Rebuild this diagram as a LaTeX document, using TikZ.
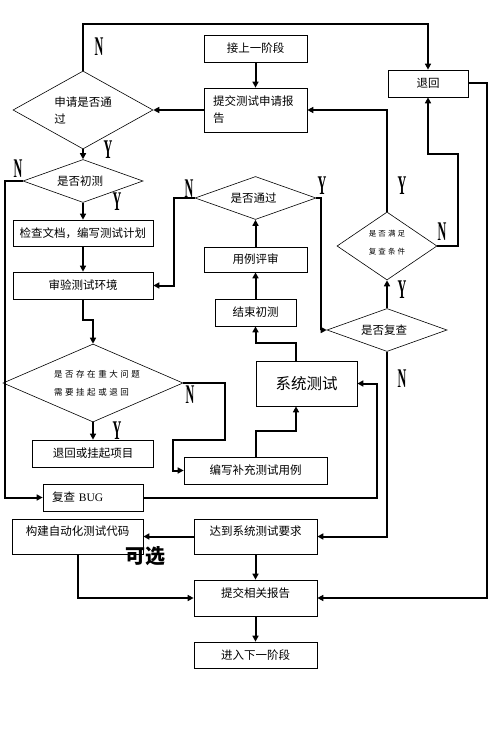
\documentclass[tikz,border=0pt]{standalone}
\usepackage{fontspec}
\usepackage{tikz}
\usetikzlibrary{shapes.geometric, arrows.meta, positioning, calc}
\newfontfamily\cjk{Noto Sans CJK SC}
\newfontfamily\cjksmall[LetterSpace=30]{Noto Sans CJK SC}
\newfontfamily\cjktiny[LetterSpace=28]{Noto Sans CJK SC}
\newfontfamily\latin{Liberation Serif}
\newcommand{\yn}[1]{{\latin\bfseries\fontsize{27}{27}\selectfont\scalebox{0.45}[1]{#1}}}

\begin{document}
\begin{tikzpicture}[x=1pt,y=-1pt,>={Triangle[length=6pt,width=6pt]},
                    main node/.style={rectangle,draw,line width=0.7pt,inner sep=0pt,font=\cjk\fontsize{11.5}{17}\selectfont},
                    dec node/.style={diamond,draw,line width=0.6pt,inner sep=0pt},
                    dec text/.style={font=\cjk\fontsize{11.5}{17}\selectfont,align=left,inner sep=0pt},
                    high text/.style={text height=8pt,text depth=10pt},
                    flow/.style={->,line width=2pt},
                    yn/.style={inner sep=0pt}]

  \useasboundingbox (0,0) rectangle (489,730);

  % boxes
  \node[main node,minimum width=103pt,minimum height=27pt] (1) at (255.5,48.5) {接上一阶段};
  \node[main node,minimum width=103pt,minimum height=44pt,text width=85pt,align=left] (2) at (255.5,110) {提交测试申请报\\告};
  \node[main node,minimum width=140pt,minimum height=26pt] (3) at (83,233) {检查文档，编写测试计划};
  \node[main node,minimum width=140pt,minimum height=27pt] (4) at (83,285.5) {审验测试环境};
  \node[main node,minimum width=121pt,minimum height=27pt] (5) at (93,453.5) {退回或挂起项目};
  \node[main node,minimum width=100pt,minimum height=27pt,text width=82pt,align=left] (6) at (93,497.5) {复查 {\latin BUG}};
  \node[main node,high text,minimum width=131pt,minimum height=35pt] (7) at (77.5,536.5) {构建自动化测试代码};
  \node[main node,high text,minimum width=123pt,minimum height=35pt] (8) at (255.5,536.5) {达到系统测试要求};
  \node[main node,high text,minimum width=123pt,minimum height=36pt] (9) at (255.5,598) {提交相关报告};
  \node[main node,minimum width=123pt,minimum height=26pt] (10) at (255.5,655) {进入下一阶段};
  \node[main node,minimum width=80pt,minimum height=27pt] (11) at (428,83.5) {退回};
  \node[main node,minimum width=103pt,minimum height=25pt] (12) at (255.5,259.5) {用例评审};
  \node[main node,minimum width=81pt,minimum height=27pt] (13) at (255.5,312.5) {结束初测};
  \node[main node,minimum width=101pt,minimum height=45pt,font=\cjk\fontsize{15.5}{17}\selectfont] (14) at (306.5,383.5) {系统测试};
  \node[main node,minimum width=143pt,minimum height=27pt] (15) at (255.5,470.5) {编写补充测试用例};

  % decisions
  \node[dec node,minimum width=140pt,minimum height=78pt,label={[dec text]center:申请是否通\\过}] (d1) at (83,110) {};
  \node[dec node,minimum width=120pt,minimum height=43pt,label={[dec text,xshift=-3pt]center:是否初测}] (d2) at (83,181) {};
  \node[dec node,minimum width=121pt,minimum height=43pt,label={[dec text,xshift=-2pt]center:是否通过}] (d3) at (255.5,198) {};
  \node[dec node,minimum width=180pt,minimum height=78pt,label={[dec text,xshift=4pt,font=\cjksmall\fontsize{8.5}{18}\selectfont]center:是否存在重大问题\\需要挂起或退回}] (d4) at (93,383) {};
  \node[dec node,minimum width=100pt,minimum height=68pt,label={[dec text,yshift=3pt,font=\cjktiny\fontsize{7.5}{18}\selectfont]center:是否满足\\复查条件}] (d5) at (387,246) {};
  \node[dec node,minimum width=120pt,minimum height=43pt,label={[dec text,xshift=-3pt]center:是否复查}] (d6) at (387,330) {};

  \node[font=\cjk\bfseries\fontsize{20}{20}\selectfont,inner sep=0pt] (opt) at (145,556) {可选};

  % Y / N
  \node[yn] (n1) at (99,47) {\yn{N}};
  \node[yn] (y1) at (108,150) {\yn{Y}};
  \node[yn] (n2) at (18,169) {\yn{N}};
  \node[yn] (y2) at (117,202) {\yn{Y}};
  \node[yn] (n3) at (189,189) {\yn{N}};
  \node[yn] (y3) at (322,186) {\yn{Y}};
  \node[yn] (y4) at (402,186) {\yn{Y}};
  \node[yn] (n4) at (442,232) {\yn{N}};
  \node[yn] (y5) at (402,290) {\yn{Y}};
  \node[yn] (n5) at (402,379) {\yn{N}};
  \node[yn] (n6) at (190,395) {\yn{N}};
  \node[yn] (y6) at (117,431) {\yn{Y}};

  \path[flow]
  (1) edge (2)
  (2) edge (d1)
  (d1) edge (d2)
  (d2) edge (3)
  (3) edge (4)
  (d4) edge (5)
  (8) edge (7)
  (8) edge (9)
  (9) edge (10)
  (d6) edge (d5)
  (13) edge (12)
  (12) edge (d3);

  \draw[flow] (d1.north) -- ++(0,-47) -| (11.north);
  \draw[flow] (d2.west) -- ++(-18,0) |- (6.west);
  \draw[flow] (4.south) -- ++(0,21) -| (d4.north);
  \draw[flow] (d4.east) -- ++(42,0) -- ++(0,57) -- ++(-52,0) |- (15.west);
  \draw[flow] (15.north) -- ++(0,-26) -| ([xshift=-10.5pt]14.south);
  \draw[flow] ([xshift=-10.5pt]14.north) -- ++(0,-18) -| (13.south);
  \draw[flow] (d3.west) -- ++(-21,0) |- (4.east);
  \draw[flow] (d3.east) -- ++(5,0) |- (d6.west);
  \draw[flow] (d5.north) |- (2.east);
  \draw[flow] (d5.east) -- ++(21,0) -- ++(0,-92) -| (11.south);
  \draw[flow] (11.east) -- ++(19,0) |- (9.east);
  \draw[flow] (d6.south) |- (8.east);
  \draw[flow] (6.east) -- ++(234,0) |- (14.east);
  \draw[flow] (7.south) |- (9.west);

\end{tikzpicture}
\end{document}
